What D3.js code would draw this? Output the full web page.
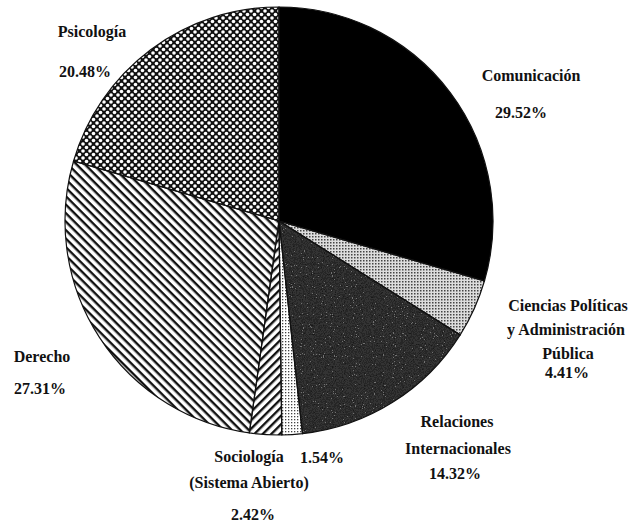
<!DOCTYPE html>
<html>
<head>
<meta charset="utf-8">
<script src="https://cdn.jsdelivr.net/npm/d3@7"></script>
<style>
  body { margin: 0; background: #fff; }
</style>
</head>
<body>
<svg width="639" height="526"></svg>
<script>
// slice values, clockwise from 12 o'clock
var shares = [29.52, 4.41, 14.32, 1.54, 2.42, 27.31, 20.48];
var sliceNames = [
    ['Comunicación'],
    ['Ciencias Políticas', 'y Administración', 'Pública'],
    ['Relaciones', 'Internacionales'],
    [],
    ['Sociología', '(Sistema Abierto)'],
    ['Derecho'],
    ['Psicología']
];

// where each label line sits (name lines first, then the percent)
var labelLayout = [
    [[531, 81], [521, 118]],
    [[568, 311], [566, 335], [568, 359], [567, 378]],
    [[457, 427], [458, 454], [455, 479]],
    [[322, 463]],
    [[249, 462], [249, 488], [253, 520]],
    [[42, 362], [40, 394]],
    [[92, 37], [85, 77]]
];
var fills = ['#000', 'url(#fineGrid)', '#333', 'url(#lightDots)', 'url(#hatchUp)', 'url(#hatchDown)', 'url(#crossHatch)'];

var svg = d3.select('svg');
var cx = 279, cy = 221, radius = 214;
var defs = svg.append('defs');

// diagonal stripes
function stripes(id, angle) {
    var p = defs.append('pattern')
        .attr('id', id)
        .attr('patternUnits', 'userSpaceOnUse')
        .attr('width', 6).attr('height', 6)
        .attr('patternTransform', 'rotate(' + angle + ')');
    p.append('rect').attr('width', 6).attr('height', 6).attr('fill', '#fff');
    p.append('rect').attr('width', 6).attr('height', 2.4).attr('fill', '#111');
}
stripes('hatchDown', 45);
stripes('hatchUp', -45);

// crosshatch: black with white holes
var ch = defs.append('pattern')
    .attr('id', 'crossHatch')
    .attr('patternUnits', 'userSpaceOnUse')
    .attr('width', 7).attr('height', 7);
ch.append('rect').attr('width', 7).attr('height', 7).attr('fill', '#111');
[[0, 0], [7, 0], [0, 7], [7, 7], [3.5, 3.5]].forEach(function(c) {
    ch.append('circle').attr('cx', c[0]).attr('cy', c[1]).attr('r', 1.8).attr('fill', '#fff');
});

// fine gray grid
var fg = defs.append('pattern')
    .attr('id', 'fineGrid')
    .attr('patternUnits', 'userSpaceOnUse')
    .attr('width', 3).attr('height', 3);
fg.append('rect').attr('width', 3).attr('height', 3).attr('fill', '#ddd');
fg.append('rect').attr('width', 1.5).attr('height', 1.5).attr('fill', '#444');

// light dots
var ld = defs.append('pattern')
    .attr('id', 'lightDots')
    .attr('patternUnits', 'userSpaceOnUse')
    .attr('width', 3).attr('height', 3);
ld.append('rect').attr('width', 3).attr('height', 3).attr('fill', '#fff');
ld.append('rect').attr('width', 1.3).attr('height', 1.3).attr('fill', '#444');

// speckled noise for the dark slice
var sp = defs.append('filter').attr('id', 'speckle')
    .attr('color-interpolation-filters', 'sRGB')
    .attr('x', 0).attr('y', 0).attr('width', 1).attr('height', 1);
sp.append('feTurbulence')
    .attr('type', 'fractalNoise').attr('baseFrequency', 0.9)
    .attr('numOctaves', 2).attr('seed', 4).attr('result', 'noise');
sp.append('feColorMatrix').attr('in', 'noise').attr('type', 'matrix')
    .attr('values', '0.6 0.4 0 0 0  0.6 0.4 0 0 0  0.6 0.4 0 0 0  0 0 0 0 1')
    .attr('result', 'gray');
var ct = sp.append('feComponentTransfer').attr('in', 'gray').attr('result', 'steps');
['feFuncR', 'feFuncG', 'feFuncB'].forEach(function(f) {
    ct.append(f).attr('type', 'discrete').attr('tableValues', '0.05 0.1 0.15 0.2 0.45 0.75');
});
sp.append('feComposite').attr('in', 'steps').attr('in2', 'SourceGraphic').attr('operator', 'in');

var pie = d3.pie().sort(null).value(function(d) { return d; });
var arc = d3.arc().innerRadius(0).outerRadius(radius);
var arcs = pie(shares);

var pieG = svg.append('g').attr('transform', 'translate(' + [cx, cy] + ')');
pieG.selectAll('.slice')
    .data(arcs)
    .enter()
    .append('path')
    .attr('class', 'slice')
    .attr('d', arc)
    .attr('fill', function(d, i) { return fills[i]; })
    .attr('filter', function(d, i) { return i == 2 ? 'url(#speckle)' : null; });
pieG.selectAll('.edge')
    .data(arcs)
    .enter()
    .append('path')
    .attr('class', 'edge')
    .attr('d', arc)
    .attr('fill', 'none')
    .attr('stroke', '#111')
    .attr('stroke-width', 1.2);

// labels
var fmt = d3.format('.2f');
arcs.forEach(function(d, i) {
    var lines = sliceNames[i].concat([fmt(shares[i]) + '%']);
    lines.forEach(function(t, j) {
        var pos = labelLayout[i][j];
        svg.append('text')
            .attr('x', pos[0])
            .attr('y', pos[1])
            .attr('text-anchor', 'middle')
            .attr('font-family', "'Liberation Serif', 'Times New Roman', Times, 'DejaVu Serif', serif")
            .attr('font-weight', 'bold')
            .attr('font-size', 16)
            .attr('fill', '#111')
            .text(t);
    });
});
</script>
</body>
</html>
